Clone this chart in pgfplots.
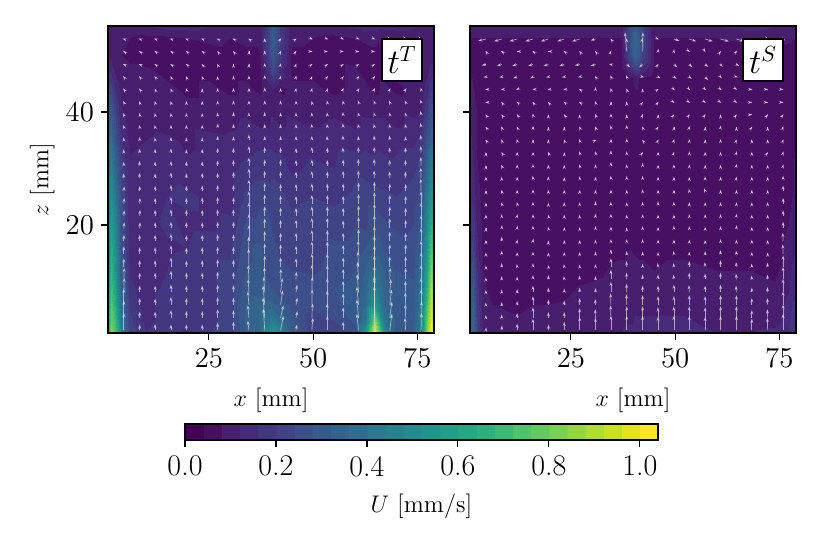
\documentclass[border=0pt]{standalone}
\usepackage{pgfplots}
\pgfplotsset{compat=1.18}
\usepackage{pgfplotstable}
\usetikzlibrary{arrows.meta}

% all velocities are in 0.01 mm/s
\pgfplotstableread{
x z u
0.8 .9 62
1.6 .9 85
2.5 .9 74
4 .9 46
6 .9 23
10 .9 16
15 .9 19
20 .9 15
25 .9 20
30 .9 22
34 .9 32
37 .9 36
39 .9 50
40.4 .9 58
42 .9 48
45 .9 31
50 .9 22
55 .9 21
60 .9 26
62.5 .9 54
64.8 .9 104
67 .9 52
70 .9 30
74 .9 30
76 .9 48
77.3 .9 85
78.2 .9 103
79 .9 90
0.8 3 56
1.6 3 80
2.5 3 70
4 3 42
6 3 21
10 3 15
15 3 18
20 3 17
25 3 19
30 3 22
34 3 33
37 3 36
39 3 40
40.4 3 44
42 3 38
45 3 29
50 3 22
55 3 24
60 3 29
62.5 3 40
64.8 3 84
67 3 42
70 3 31
74 3 30
76 3 45
77.3 3 80
78.2 3 100
79 3 86
0.8 6 54
1.6 6 76
2.5 6 64
4 6 36
6 6 19
10 6 14
15 6 19
20 6 18
25 6 18
30 6 22
34 6 32
37 6 34
39 6 33
40.4 6 33
42 6 30
45 6 27
50 6 25
55 6 27
60 6 30
62.5 6 36
64.8 6 56
67 6 36
70 6 29
74 6 29
76 6 41
77.3 6 72
78.2 6 94
79 6 82
0.8 9 50
1.6 9 72
2.5 9 60
4 9 33
6 9 17
10 9 14
15 9 17
20 9 19
25 9 19
30 9 22
34 9 30
37 9 30
39 9 29
40.4 9 27
42 9 25
45 9 24
50 9 27
55 9 28
60 9 29
62.5 9 34
64.8 9 46
67 9 34
70 9 28
74 9 29
76 9 39
77.3 9 66
78.2 9 90
79 9 78
0.8 12 48
1.6 12 68
2.5 12 56
4 12 30
6 12 15
10 12 13
15 12 16
20 12 19
25 12 19
30 12 21
34 12 28
37 12 29
39 12 27
40.4 12 26
42 12 25
45 12 24
50 12 23
55 12 26
60 12 28
62.5 12 32
64.8 12 38
67 12 32
70 12 28
74 12 27
76 12 37
77.3 12 60
78.2 12 82
79 12 74
0.8 16 46
1.6 16 64
2.5 16 52
4 16 28
6 16 13
10 16 13
15 16 15
20 16 16
25 16 19
30 16 19
34 16 27
37 16 29
39 16 26
40.4 16 25
42 16 23
45 16 24
50 16 22
55 16 25
60 16 25
62.5 16 28
64.8 16 32
67 16 28
70 16 27
74 16 25
76 16 33
77.3 16 55
78.2 16 74
79 16 66
0.8 20 45
1.6 20 58
2.5 20 48
4 20 28
6 20 13
10 20 14
15 20 17
20 20 15
25 20 15
30 20 17
34 20 25
37 20 25
39 20 26
40.4 20 23
42 20 22
45 20 21
50 20 23
55 20 22
60 20 24
62.5 20 23
64.8 20 27
67 20 25
70 20 23
74 20 24
76 20 30
77.3 20 50
78.2 20 64
79 20 58
0.8 25 42
1.6 25 52
2.5 25 42
4 25 25
6 25 13
10 25 14
15 25 16
20 25 17
25 25 15
30 25 14
34 25 21
37 25 23
39 25 23
40.4 25 22
42 25 21
45 25 19
50 25 20
55 25 19
60 25 21
62.5 25 23
64.8 25 22
67 25 21
70 25 20
74 25 22
76 25 26
77.3 25 42
78.2 25 54
79 25 52
0.8 30 38
1.6 30 46
2.5 30 35
4 30 22
6 30 13
10 30 14
15 30 15
20 30 13
25 30 14
30 30 15
34 30 17
37 30 18
39 30 18
40.4 30 19
42 30 18
45 30 15
50 30 17
55 30 16
60 30 19
62.5 30 18
64.8 30 17
67 30 18
70 30 17
74 30 19
76 30 22
77.3 30 34
78.2 30 44
79 30 44
0.8 35 33
1.6 35 38
2.5 35 28
4 35 17
6 35 11
10 35 12
15 35 13
20 35 11
25 35 14
30 35 13
34 35 14
37 35 15
39 35 15
40.4 35 14
42 35 15
45 35 14
50 35 14
55 35 15
60 35 14
62.5 35 15
64.8 35 15
67 35 14
70 35 15
74 35 15
76 35 17
77.3 35 27
78.2 35 35
79 35 36
0.8 38 30
1.6 38 33
2.5 38 25
4 38 14
6 38 11
10 38 11
15 38 10
20 38 11
25 38 10
30 38 11
34 38 13
37 38 11
39 38 11
40.4 38 13
42 38 11
45 38 13
50 38 11
55 38 13
60 38 11
62.5 38 13
64.8 38 13
67 38 13
70 38 11
74 38 13
76 38 14
77.3 38 23
78.2 38 30
79 38 31
0.8 41 27
1.6 41 29
2.5 41 21
4 41 12
6 41 10
10 41 10
15 41 9
20 41 9
25 41 9
30 41 10
34 41 10
37 41 11
39 41 11
40.4 41 10
42 41 11
45 41 10
50 41 9
55 41 10
60 41 11
62.5 41 10
64.8 41 10
67 41 10
70 41 11
74 41 10
76 41 11
77.3 41 18
78.2 41 25
79 41 26
0.8 44 22
1.6 44 22
2.5 44 16
4 44 11
6 44 9
10 44 9
15 44 9
20 44 7
25 44 9
30 44 7
34 44 9
37 44 7
39 44 10
40.4 44 12
42 44 7
45 44 9
50 44 9
55 44 7
60 44 9
62.5 44 9
64.8 44 7
67 44 9
70 44 7
74 44 9
76 44 9
77.3 44 14
78.2 44 19
79 44 20
0.8 47 17
1.6 47 15
2.5 47 12
4 47 10
6 47 9
10 47 9
15 47 7
20 47 7
25 47 7
30 47 7
34 47 7
37 47 7
39 47 14
40.4 47 24
42 47 14
45 47 7
50 47 7
55 47 7
60 47 9
62.5 47 7
64.8 47 7
67 47 7
70 47 9
74 47 7
76 47 9
77.3 47 11
78.2 47 14
79 47 15
0.8 50 12
1.6 50 10
2.5 50 9
4 50 8
6 50 7
10 50 6
15 50 6
20 50 6
25 50 6
30 50 7
34 50 7
37 50 7
39 50 18
40.4 50 29
42 50 18
45 50 7
50 50 7
55 50 7
60 50 6
62.5 50 6
64.8 50 7
67 50 6
70 50 7
74 50 7
76 50 9
77.3 50 9
78.2 50 10
79 50 11
0.8 53 11
1.6 53 9
2.5 53 9
4 53 9
6 53 8
10 53 7
15 53 7
20 53 8
25 53 9
30 53 8
34 53 9
37 53 9
39 53 20
40.4 53 31
42 53 20
45 53 9
50 53 8
55 53 7
60 53 8
62.5 53 9
64.8 53 9
67 53 8
70 53 8
74 53 9
76 53 9
77.3 53 9
78.2 53 10
79 53 11
0.8 55.2 10
1.6 55.2 9
2.5 55.2 9
4 55.2 9
6 55.2 10
10 55.2 12
15 55.2 14
20 55.2 14
25 55.2 12
30 55.2 9
34 55.2 9
37 55.2 9
39 55.2 20
40.4 55.2 30
42 55.2 20
45 55.2 9
50 55.2 10
55 55.2 11
60 55.2 13
62.5 55.2 14
64.8 55.2 14
67 55.2 14
70 55.2 14
74 55.2 13
76 55.2 11
77.3 55.2 10
78.2 55.2 10
79 55.2 10
}\fieldT

\pgfplotstableread{
x z u
0.8 .9 32
1.6 .9 36
2.5 .9 22
4 .9 12
6 .9 10
12 .9 10
20 .9 11
30 .9 12
37 .9 12
39 .9 13
40.4 .9 13
42 .9 13
45 .9 13
52 .9 14
60 .9 12
68 .9 12
74 .9 13
77 .9 16
78.2 .9 20
79 .9 20
0.8 4 30
1.6 4 34
2.5 4 20
4 4 10
6 4 9
12 4 8
20 4 9
30 4 10
37 4 11
39 4 11
40.4 4 12
42 4 12
45 4 12
52 4 12
60 4 11
68 4 10
74 4 10
77 4 14
78.2 4 18
79 4 18
0.8 8 28
1.6 8 30
2.5 8 18
4 8 9
6 8 7
12 8 7
20 8 7
30 8 9
37 8 10
39 8 10
40.4 8 10
42 8 10
45 8 10
52 8 10
60 8 9
68 8 9
74 8 9
77 8 12
78.2 8 15
79 8 16
0.8 12 24
1.6 12 26
2.5 12 16
4 12 8
6 12 6
12 12 6
20 12 6
30 12 7
37 12 9
39 12 9
40.4 12 10
42 12 9
45 12 8
52 12 9
60 12 8
68 12 8
74 12 7
77 12 10
78.2 12 13
79 12 14
0.8 16 20
1.6 16 22
2.5 16 13
4 16 7
6 16 6
12 16 6
20 16 6
30 16 6
37 16 7
39 16 8
40.4 16 7
42 16 7
45 16 7
52 16 7
60 16 7
68 16 6
74 16 6
77 16 9
78.2 16 11
79 16 12
0.8 20 16
1.6 20 18
2.5 20 11
4 20 7
6 20 6
12 20 6
20 20 6
30 20 6
37 20 6
39 20 6
40.4 20 6
42 20 6
45 20 6
52 20 6
60 20 6
68 20 6
74 20 6
77 20 8
78.2 20 9
79 20 10
0.8 26 15
1.6 26 14
2.5 26 9
4 26 7
6 26 6
12 26 7
20 26 6
30 26 6
37 26 6
39 26 6
40.4 26 6
42 26 6
45 26 6
52 26 6
60 26 6
68 26 6
74 26 6
77 26 7
78.2 26 8
79 26 9
0.8 32 13
1.6 32 12
2.5 32 8
4 32 7
6 32 6
12 32 6
20 32 6
30 32 6
37 32 6
39 32 6
40.4 32 6
42 32 6
45 32 6
52 32 6
60 32 6
68 32 6
74 32 6
77 32 7
78.2 32 8
79 32 8
0.8 40 12
1.6 40 10
2.5 40 8
4 40 7
6 40 6
12 40 6
20 40 7
30 40 6
37 40 6
39 40 6
40.4 40 6
42 40 6
45 40 6
52 40 6
60 40 6
68 40 6
74 40 6
77 40 7
78.2 40 7
79 40 8
0.8 46 8
1.6 46 8
2.5 46 7
4 46 6
6 46 6
12 46 6
20 46 6
30 46 6
37 46 6
39 46 7
40.4 46 9
42 46 7
45 46 6
52 46 6
60 46 6
68 46 6
74 46 6
77 46 6
78.2 46 7
79 46 7
0.8 48 8
1.6 48 7
2.5 48 7
4 48 6
6 48 6
12 48 6
20 48 6
30 48 6
37 48 7
39 48 16
40.4 48 24
42 48 16
45 48 7
52 48 6
60 48 6
68 48 6
74 48 6
77 48 6
78.2 48 7
79 48 7
0.8 50 7
1.6 50 7
2.5 50 6
4 50 6
6 50 6
12 50 6
20 50 6
30 50 6
37 50 7
39 50 24
40.4 50 34
42 50 24
45 50 7
52 50 6
60 50 6
68 50 6
74 50 6
77 50 6
78.2 50 6
79 50 7
0.8 53 8
1.6 53 8
2.5 53 8
4 53 8
6 53 8
12 53 8
20 53 8
30 53 8
37 53 8
39 53 24
40.4 53 36
42 53 24
45 53 8
52 53 8
60 53 8
68 53 9
74 53 9
77 53 9
78.2 53 8
79 53 8
0.8 55.2 9
1.6 55.2 9
2.5 55.2 9
4 55.2 9
6 55.2 9
12 55.2 9
20 55.2 10
30 55.2 9
37 55.2 9
39 55.2 22
40.4 55.2 32
42 55.2 22
45 55.2 9
52 55.2 10
60 55.2 12
68 55.2 14
74 55.2 12
77 55.2 10
78.2 55.2 9
79 55.2 9
}\fieldS

% one row per height, (u,v) pair per arrow column
\pgfplotstableread{
z u4.6 v4.6 u8.4 v8.4 u12.1 v12.1 u15.9 v15.9 u19.6 v19.6 u23.4 v23.4 u27.1 v27.1 u30.9 v30.9 u34.6 v34.6 u38.4 v38.4 u42.2 v42.2 u45.9 v45.9 u49.7 v49.7 u53.4 v53.4 u57.2 v57.2 u60.9 v60.9 u64.7 v64.7 u68.4 v68.4 u72.2 v72.2 u75.9 v75.9
52.9 -4 1 -4 1 -4 1 -4 1 -4 1 -4 1 -3 1 -3 1 -2 1 0 2 2 2 2 1 3 -1 3 -1 3 -1 3 -1 3 -1 3 -1 3 -1 3 -1
50.7 -2 1 -2 1 -2 1 -2 1 -2 1 -2 1 -1 1 -1 1 0 2 0 2 1 2 1 1 2 0 2 0 2 0 2 0 2 0 2 0 2 0 2 0
48.4 -3 1 -3 1 -2 1 -2 1 -2 1 -1 1 -1 2 0 2 0 2 0 3 1 3 1 2 2 1 2 1 2 1 2 1 2 1 2 1 1 1 1 1
46.2 -2 2 -2 2 -2 2 -1 2 -1 2 -1 2 0 2 0 3 0 3 0 4 1 3 1 3 1 2 2 2 2 2 2 2 2 2 2 2 2 2 1 3
44 -2 2 -2 2 -1 2 -1 2 -1 3 0 2 0 3 0 3 0 3 0 4 0 3 1 3 1 3 1 3 2 3 2 3 2 3 2 3 2 3 -1 4
41.7 -2 3 -1 3 -1 3 -1 3 0 3 0 3 0 4 0 4 0 4 0 4 0 4 0 4 -1 3 -1 4 -1 4 -2 4 -2 4 -2 4 -2 4 -2 6
39.5 -2 4 -1 4 -1 4 -1 4 0 4 0 4 0 5 0 6 0 5 0 6 0 5 0 5 -1 5 -1 5 -1 6 -2 5 -2 5 -2 5 -2 5 -2 8
37.3 -2 5 -1 5 -1 5 0 5 0 5 0 5 1 8 0 7 0 8 0 7 0 7 0 7 -1 7 -1 7 -1 8 -2 7 -2 7 -1 7 -1 7 -2 9
35 -1 6 -1 7 -1 6 0 7 0 6 0 6 0 9 0 8 0 12 0 9 0 9 0 9 0 9 -1 9 -1 10 -1 9 -1 10 -1 10 -1 8 -2 11
32.8 -1 7 -1 8 0 8 0 9 0 7 0 8 0 10 0 10 0 14 0 12 0 11 0 10 0 12 0 11 -1 11 -1 12 -1 12 -1 11 -1 11 -1 14
30.5 -1 8 -1 10 0 9 0 10 0 9 0 9 0 11 0 12 0 17 0 13 0 13 0 12 0 13 0 12 0 13 -1 14 -1 14 -1 12 -1 12 -1 18
28.3 -1 10 -1 11 0 10 0 12 0 10 0 11 0 11 0 13 0 20 0 15 0 14 0 14 0 15 0 14 0 15 -1 16 -1 16 -1 14 -1 14 -1 22
26 1 10 0 11 0 11 0 13 0 11 0 12 0 13 0 13 0 24 0 17 0 15 0 15 0 16 0 16 0 16 0 18 0 20 0 16 0 15 -1 26
23.8 1 12 1 12 0 12 0 14 0 12 0 13 0 14 0 13 0 26 0 19 0 17 0 16 0 18 0 18 0 16 0 20 0 24 0 18 0 16 0 26
21.6 1 12 1 13 0 13 0 14 0 13 0 13 0 14 0 14 0 28 0 20 0 18 0 17 0 20 0 20 0 17 0 22 0 26 0 20 0 17 0 28
19.4 1 13 1 13 0 13 0 14 0 13 0 13 0 14 0 14 0 30 0 21 0 18 0 18 0 22 0 22 0 17 0 24 0 28 0 21 0 18 0 28
17.1 0 14 0 14 0 14 0 16 0 13 0 14 0 15 0 15 0 34 0 22 0 18 0 18 0 24 0 24 0 18 0 26 0 32 0 20 0 18 0 28
14.9 0 16 0 14 0 14 0 18 0 13 0 14 0 15 0 15 -1 36 0 22 0 20 0 17 0 26 0 26 0 19 -1 28 0 38 0 20 0 20 0 28
12.6 0 18 0 14 0 14 0 20 0 13 0 14 0 16 0 15 -1 38 0 24 0 20 0 18 0 28 0 28 0 20 -2 32 0 45 0 22 0 22 0 30
10.4 1 24 0 14 0 14 0 18 0 14 0 14 0 16 0 15 -2 30 -1 26 1 22 1 16 0 30 0 30 0 22 -3 36 0 50 1 24 0 24 0 30
8.1 1 30 0 14 0 14 0 16 0 14 0 14 0 16 0 15 -2 28 -3 32 5 30 3 16 1 32 0 30 0 24 -4 38 0 55 3 28 -1 24 0 30
5.9 0 34 0 14 0 13 0 16 0 14 0 14 0 16 0 15 -3 28 -5 40 6 30 4 15 1 32 0 30 0 24 -5 38 0 60 5 32 -1 26 0 32
3.6 0 36 0 13 0 13 0 16 0 14 0 14 0 18 0 16 -3 26 -5 42 8 26 4 14 2 30 0 30 0 22 -5 38 0 82 6 34 -1 28 1 34
1.4 0 36 0 12 0 13 0 12 0 12 0 12 0 16 0 18 -3 20 -4 45 8 30 3 12 3 26 0 30 0 18 -5 34 0 92 6 34 -2 26 1 36
}\arrowsT

\pgfplotstableread{
z u4.6 v4.6 u8.4 v8.4 u12.1 v12.1 u15.9 v15.9 u19.6 v19.6 u23.4 v23.4 u27.1 v27.1 u30.9 v30.9 u34.6 v34.6 u38.4 v38.4 u42.2 v42.2 u45.9 v45.9 u49.7 v49.7 u53.4 v53.4 u57.2 v57.2 u60.9 v60.9 u64.7 v64.7 u68.4 v68.4 u72.2 v72.2 u75.9 v75.9
52.9 -22 -4 -22 -5 -22 -5 -22 -5 -22 -5 -20 -5 -22 -5 -14 -3 -1 1 0 2 1 2 3 -1 16 -4 20 -5 22 -5 24 -5 22 -5 24 -5 3 -1 6 -3
50.7 -1 1 -2 1 -1 0 -2 1 -1 0 -2 1 -1 1 -1 1 1 2 -5 40 1 40 1 6 1 5 2 -1 1 -1 1 1 2 2 2 1 1 1 1 1
48.4 -12 -2 -14 -3 -14 -3 -14 -3 -14 -3 -14 -3 -14 -2 -14 -3 -6 1 10 -6 -10 -6 1 1 10 -6 9 -6 9 -5 6 -5 8 -3 2 0 2 0 1 0
46.2 -7 -1 -7 -1 -11 -3 -8 -3 -7 -1 -7 -1 -5 -1 -2 2 -2 3 -2 4 5 -1 7 -3 8 -4 7 -4 9 -7 4 -3 4 -1 4 -1 2 0 1 0
44 -2 0 -3 0 -3 -1 -2 0 -3 0 -3 0 -2 1 0 5 -1 3 -1 2 0 2 2 1 3 -2 3 -2 3 -2 3 -2 2 -1 2 0 1 0 1 0
41.7 -2 0 -1 1 -2 1 -1 1 -1 1 -2 1 -2 1 -1 3 0 2 0 2 1 1 1 1 2 -1 2 -1 2 -1 2 -1 2 -1 1 0 1 0 1 0
39.5 -1 1 -1 1 -1 1 -1 3 0 1 -1 1 0 1 -1 2 0 3 0 1 1 2 0 1 1 1 1 1 1 1 0 1 1 1 1 0 1 1 1 1
37.3 -1 1 -1 2 -1 2 0 3 0 1 0 1 -1 2 -1 2 -1 4 0 5 -1 2 1 1 0 2 1 3 0 1 1 4 0 1 1 1 0 1 1 2
35 -1 1 -1 2 -1 3 0 2 0 2 -1 2 -1 3 3 1 0 3 0 4 -1 1 1 2 1 3 0 3 0 2 0 3 1 2 0 2 0 2 1 2
32.8 0 1 -1 1 0 2 0 2 -1 2 0 1 -1 3 -1 3 0 5 0 3 1 1 0 2 1 2 0 3 0 2 0 2 1 3 0 2 1 1 1 3
30.5 0 1 -1 2 0 3 0 4 0 2 0 2 -1 3 0 3 0 8 0 3 0 6 0 2 0 3 0 3 0 2 0 2 1 4 0 2 0 2 1 3
28.3 0 3 0 3 0 3 -1 5 0 4 0 2 -1 4 0 3 -1 5 0 5 0 5 0 3 0 3 0 3 0 4 0 3 1 3 0 3 0 3 0 5
26 0 2 -1 3 0 3 0 4 0 3 0 3 0 3 0 3 0 3 0 3 0 4 0 3 0 3 -1 5 -3 6 0 3 0 3 0 3 0 3 0 12
23.8 0 2 -1 3 -1 3 0 4 0 2 0 3 0 3 0 5 0 4 0 3 0 4 0 5 0 4 0 3 0 3 0 3 0 3 0 3 0 3 0 12
21.6 0 3 0 4 1 4 0 4 -1 3 0 3 0 3 0 5 0 5 0 3 0 4 0 3 0 3 0 4 0 4 0 4 1 5 0 3 0 3 0 12
19.4 0 2 1 7 1 6 0 6 -1 4 0 3 0 3 0 5 0 4 0 2 0 5 0 3 0 6 -1 5 0 4 0 5 1 7 0 3 0 3 0 14
17.1 0 3 0 10 1 4 1 6 0 2 0 3 0 3 0 4 0 5 0 5 0 5 0 4 0 4 0 4 0 3 0 5 0 4 0 4 0 3 -1 18
14.9 0 3 0 7 0 4 0 5 0 3 0 4 0 4 0 5 0 10 0 6 0 5 0 4 -1 6 0 5 0 6 -1 8 -1 7 0 4 0 3 -1 20
12.6 0 3 0 8 -1 6 0 8 -1 4 -1 6 -1 5 -1 6 0 18 -1 12 0 7 -1 8 -1 8 0 12 -1 10 0 14 -1 10 -1 7 -1 9 0 24
10.4 0 4 0 7 0 6 0 9 0 9 -1 7 -1 8 0 7 0 20 -1 14 0 10 0 10 -1 10 0 14 0 12 0 14 -1 12 -1 8 -1 10 0 26
8.1 0 5 0 6 0 7 0 14 0 10 0 8 0 10 0 9 0 22 -1 18 0 14 0 14 0 16 -1 15 0 14 0 16 -1 14 0 10 -1 11 0 28
5.9 0 5 0 6 0 8 0 18 0 11 0 9 0 14 -1 12 -1 24 -1 22 0 20 0 18 0 18 0 20 0 18 0 20 0 20 0 14 -1 14 0 28
3.6 0 6 0 7 0 10 0 22 0 12 0 12 0 20 -1 18 -1 26 0 24 0 24 0 22 0 24 0 24 0 22 0 24 0 24 0 16 -1 18 0 28
1.4 1 6 1 10 0 14 0 24 1 12 0 18 0 28 0 26 0 30 0 30 0 30 0 28 0 30 0 30 0 28 0 30 0 30 0 24 -1 26 0 34
}\arrowsS

\pgfplotstableread{
x y u
0 0 0
1.04 0 104
0 1 0
1.04 1 104
}\barfield

\tikzset{
  tagbox/.style={fill=white,draw=black,line width=1pt,inner sep=0pt,
    minimum width=20pt,minimum height=21pt,font=\fontsize{16}{19}\selectfont},
}
\pgfplotsset{
  colormap/viridis,
  common/.style={
    scale only axis,anchor=south west,axis on top,
    axis line style={line width=.8pt},
    tick style={black,line width=.6pt},major tick length=3.5pt,
    tick align=outside,xtick pos=bottom,ytick pos=left,
    tick label style={font=\fontsize{15}{18}\selectfont},
    x tick label style={yshift=-1pt},
    label style={font=\fontsize{12.3}{14}\selectfont},
    point meta min=0,point meta max=104,
  },
  panel/.style={
    common,width=163pt,height=153.5pt,
    xmin=.8,xmax=79,ymin=.9,ymax=55.2,
    xtick={25,50,75},ytick={20,40},
    xlabel={$x$ [mm]},
    xlabel style={at={(axis description cs:.5,-.218)},anchor=center},
  },
}
\newcommand\drawarrows[1]{
  \pgfplotsinvokeforeach{4.6,8.4,12.1,15.9,19.6,23.4,27.1,30.9,34.6,38.4,42.2,45.9,49.7,53.4,57.2,60.9,64.7,68.4,72.2,75.9}{
    \addplot[white!85!black,opacity=.7,line width=.35pt,
      quiver={u=\thisrow{u##1},v=\thisrow{v##1},scale arrows=.085,
        every arrow/.append style={-{Stealth[length=2.2pt,width=1.5pt]}}}]
      table[x expr=##1,y=z] {#1};
  }
}

\begin{document}
\begin{tikzpicture}
\path[use as bounding box] (0,0) rectangle (411.5pt,269pt);

\begin{axis}[panel,at={(54pt,102.5pt)},
  ylabel={$z$ [mm]},
  ylabel style={at={(axis description cs:-.202,.5)},anchor=center}]
\addplot[contour filled={number=26},mesh/rows=17,mesh/cols=28,point meta=\thisrow{u}] table[x=x,y=z] {\fieldT};
\drawarrows{\arrowsT}
\node[tagbox] at (rel axis cs:.902,.889) {$t^T$};
\end{axis}

\begin{axis}[panel,at={(235pt,102.5pt)},yticklabels={}]
\addplot[contour filled={number=26},mesh/rows=14,mesh/cols=20,point meta=\thisrow{u}] table[x=x,y=z] {\fieldS};
\drawarrows{\arrowsS}
\node[tagbox] at (rel axis cs:.899,.889) {$t^S$};
\end{axis}

% colour bar
\begin{axis}[common,at={(92.5pt,49pt)},width=236.5pt,height=8pt,
  xmin=0,xmax=1.04,ymin=0,ymax=1,ytick=\empty,
  xtick={0,.2,.4,.6,.8,1},
  xticklabels={0.0,0.2,0.4,0.6,0.8,1.0},
  xlabel={$U$ [mm/s]},
  xlabel style={at={(axis description cs:.5,-4.12)},anchor=center}]
\addplot[contour filled={number=26},mesh/rows=2,mesh/cols=2,point meta=\thisrow{u}] table[x=x,y=y] {\barfield};
\end{axis}
\end{tikzpicture}
\end{document}
